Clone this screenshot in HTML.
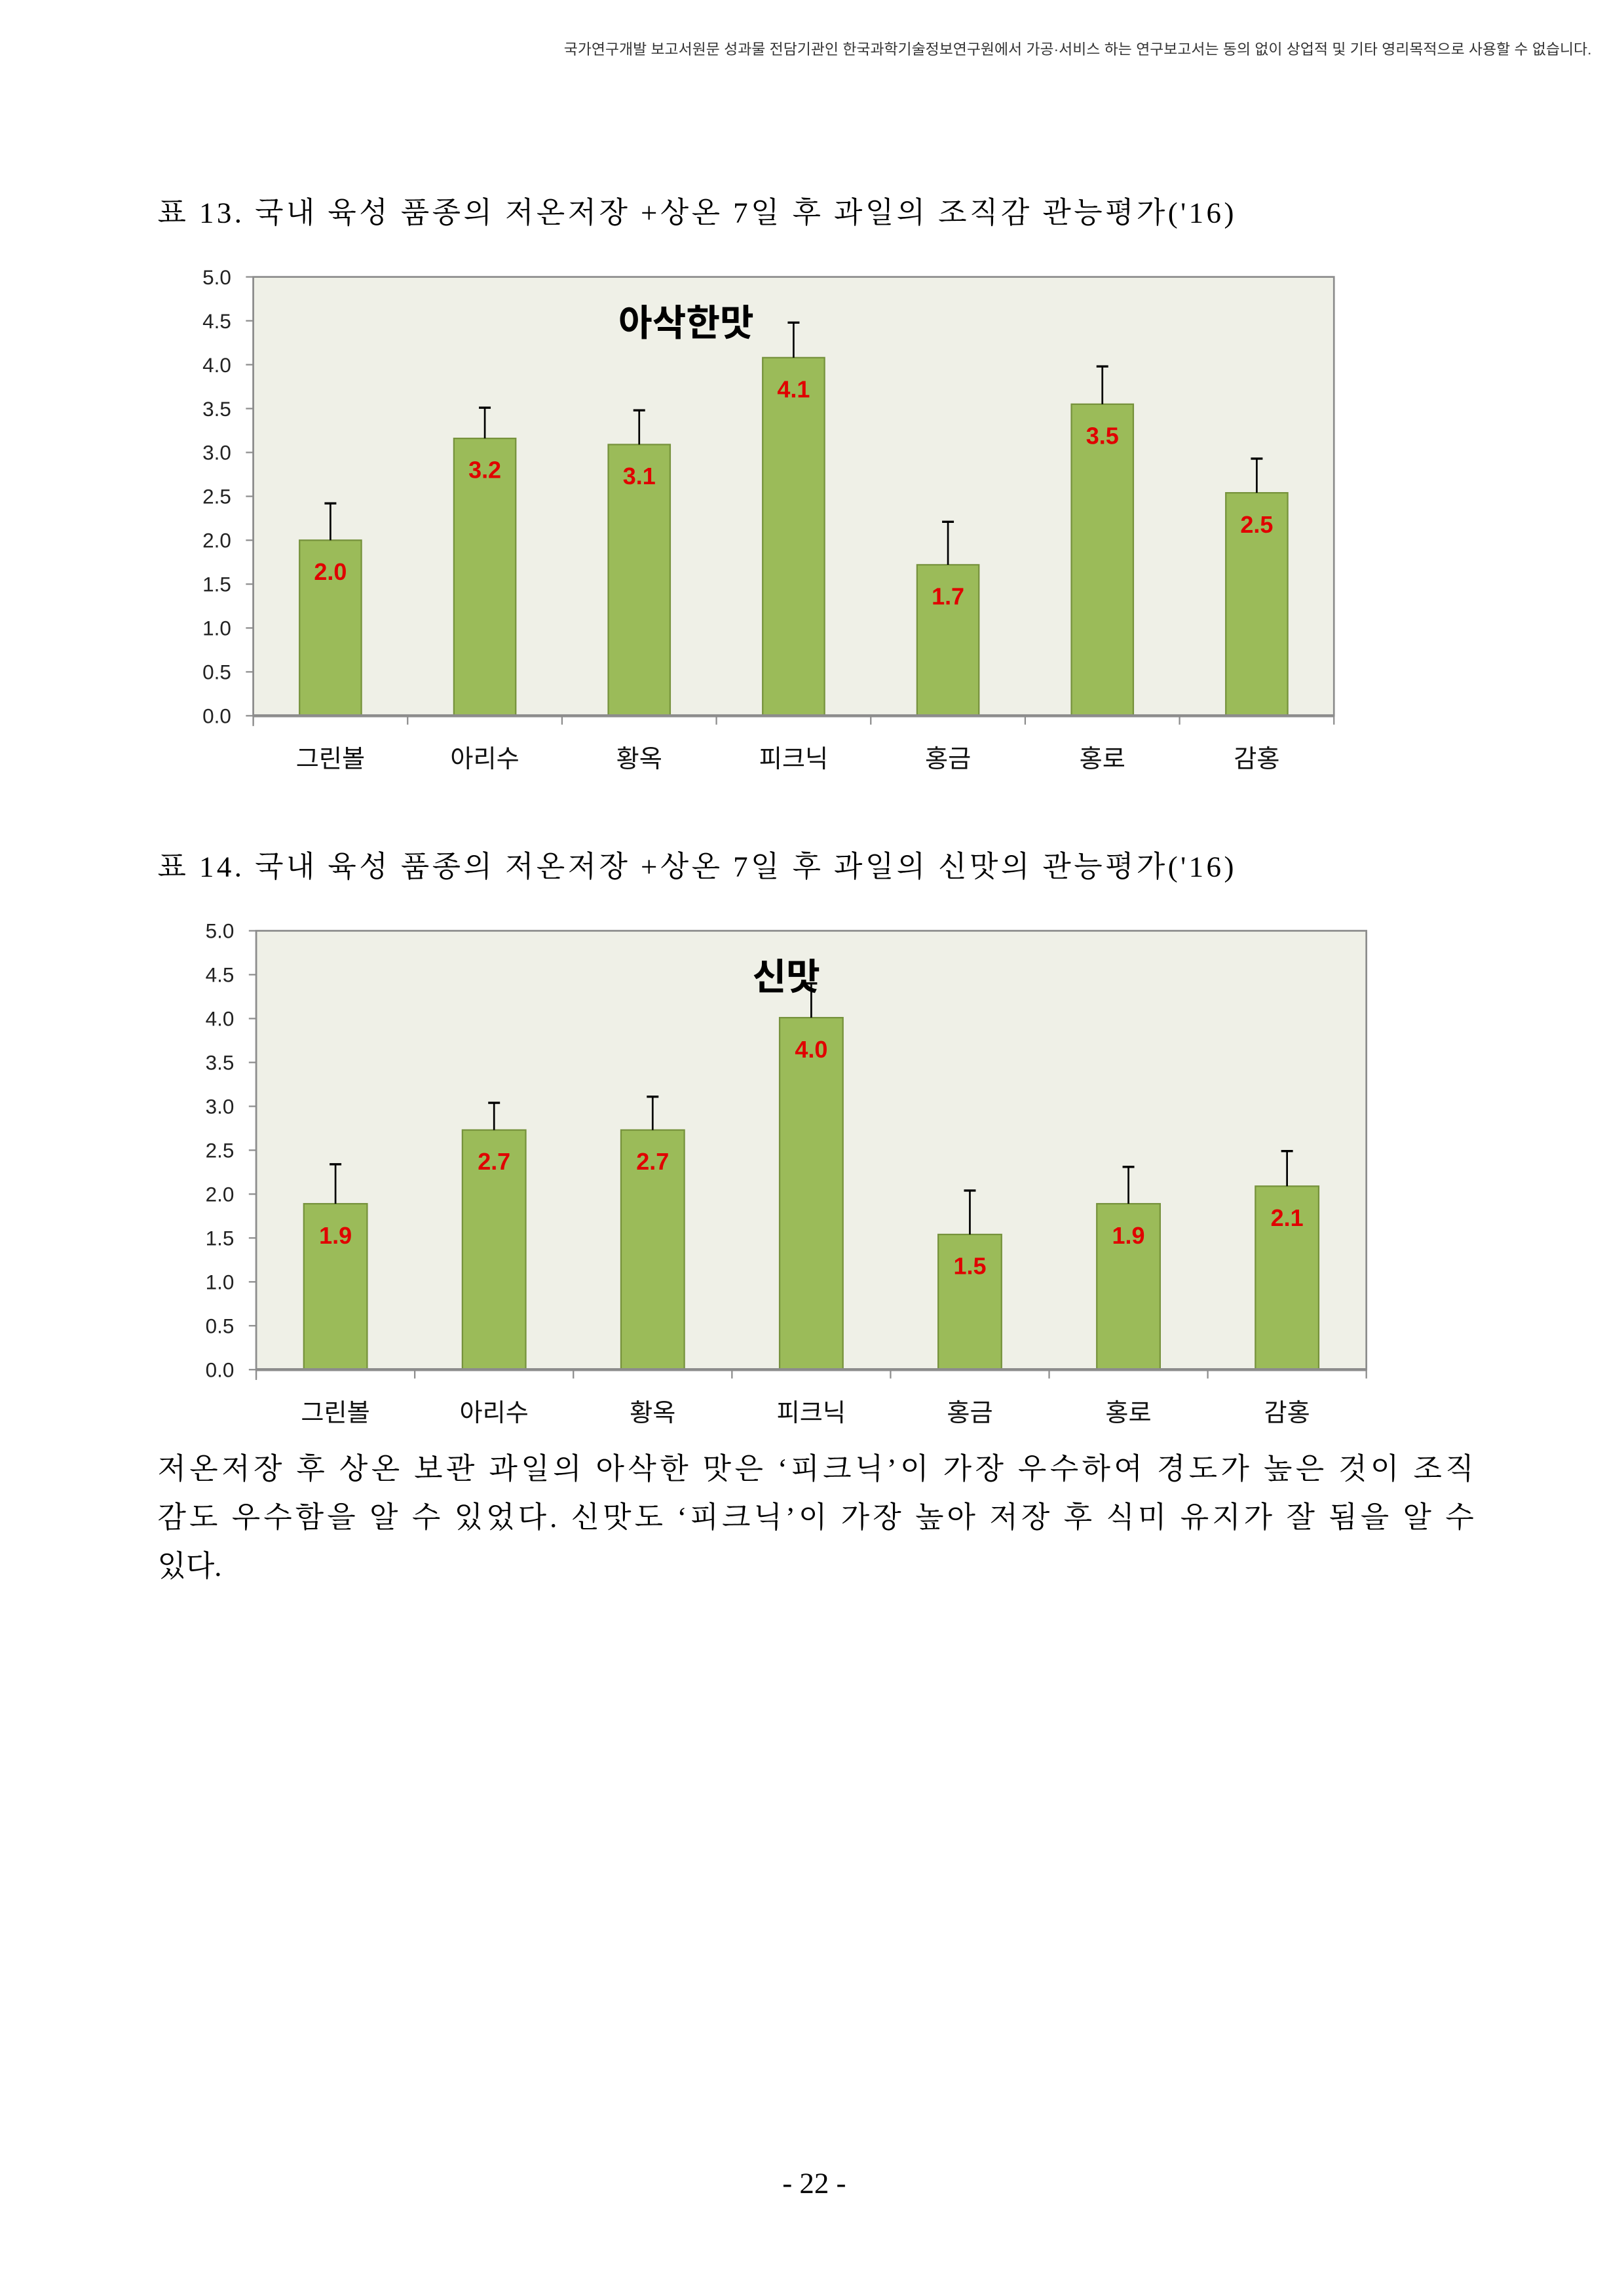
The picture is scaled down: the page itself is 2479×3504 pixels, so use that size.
<!DOCTYPE html>
<html><head><meta charset="utf-8">
<style>
html,body{margin:0;padding:0;background:#fff}
svg{display:block}
.ser{font-family:"Liberation Serif","Noto Serif CJK KR","Noto Serif CJK SC",serif}
.san{font-family:"Liberation Sans","Noto Sans CJK KR",sans-serif}
</style></head>
<body>
<svg id="page" width="2479" height="3504" viewBox="0 0 1103 1559" xmlns="http://www.w3.org/2000/svg">
<rect width="1103" height="1559" fill="#fff"/>
<text class="san" x="383" y="37" font-size="10" textLength="698" lengthAdjust="spacingAndGlyphs" fill="#333">국가연구개발 보고서원문 성과물 전담기관인 한국과학기술정보연구원에서 가공·서비스 하는 연구보고서는 동의 없이 상업적 및 기타 영리목적으로 사용할 수 없습니다.</text>
<text class="ser" x="107" y="151" font-size="20" textLength="731" fill="#000">표 13. 국내 육성 품종의 저온저장 +상온 7일 후 과일의 조직감 관능평가('16)</text>
<text class="ser" x="107" y="595" font-size="20" textLength="731" fill="#000">표 14. 국내 육성 품종의 저온저장 +상온 7일 후 과일의 신맛의 관능평가('16)</text>
<g id="chart1"></g>
<g id="chart2"></g>
<text class="ser" x="107" y="1004" font-size="20" textLength="894" fill="#000">저온저장 후 상온 보관 과일의 아삭한 맛은 ‘피크닉’이 가장 우수하여 경도가 높은 것이 조직</text>
<text class="ser" x="107" y="1037" font-size="20" textLength="894" fill="#000">감도 우수함을 알 수 있었다. 신맛도 ‘피크닉’이 가장 높아 저장 후 식미 유지가 잘 됨을 알 수</text>
<text class="ser" x="107" y="1070" font-size="20" fill="#000">있다.</text>
<text class="ser" x="553" y="1489" font-size="20" text-anchor="middle" fill="#000">- 22 -</text>
</svg>
<script>
const categories = ["그린볼","아리수","황옥","피크닉","홍금","홍로","감홍"];
const crispValues = [2.0,3.16,3.09,4.08,1.72,3.55,2.54];
const crispLabels = ["2.0","3.2","3.1","4.1","1.7","3.5","2.5"];
const crispErrTop = [2.42,3.51,3.48,4.48,2.21,3.98,2.93];
const sourValues = [1.89,2.73,2.73,4.01,1.54,1.89,2.09];
const sourLabels = ["1.9","2.7","2.7","4.0","1.5","1.9","2.1"];
const sourErrTop = [2.34,3.04,3.11,4.4,2.04,2.31,2.49];
const yTicks = ["0.0","0.5","1.0","1.5","2.0","2.5","3.0","3.5","4.0","4.5","5.0"];
const NS="http://www.w3.org/2000/svg";
function mk(tag,attrs,parent){const e=document.createElementNS(NS,tag);for(const k in attrs)e.setAttribute(k,attrs[k]);parent.appendChild(e);return e;}
function drawChart(g,cfg,values,labels,errTop,title){
  const {left,right,top,bottom,barW,titleX,titleY}=cfg;
  const y=v=>bottom-(v/5)*(bottom-top);
  const bw=(right-left)/categories.length;
  const x=i=>left+bw*(i+0.5);
  const bg=mk('rect',{x:left,y:top,width:right-left,height:bottom-top,fill:'#eff0e7',stroke:'#8c8c8c','stroke-width':1.2},g);
  
  
  const ax=mk('line',{x1:left,y1:top,x2:left,y2:bottom+7,stroke:'#8c8c8c','stroke-width':1},g);
  
  
  yTicks.forEach((t,i)=>{
    const v=i*0.5;
    mk('line',{x1:left-5,y1:y(v),x2:left,y2:y(v),stroke:'#8c8c8c'},g);
    const tx=mk('text',{x:left-15,y:y(v)+5,'font-size':14,'text-anchor':'end',fill:'#222',class:'san'},g);
    
    
    tx.textContent=t;
  });
  for(let i=0;i<=categories.length;i++){
    mk('line',{x1:left+bw*i,y1:bottom,x2:left+bw*i,y2:bottom+6,stroke:'#8c8c8c'},g);
  }
  categories.forEach((c,i)=>{
    const b=mk('rect',{x:x(i)-barW/2,y:y(values[i]),width:barW,height:y(0)-y(values[i]),fill:'#9bbb59',stroke:'#76923c','stroke-width':1},g);
    
    
    const e=mk('line',{x1:x(i),y1:y(values[i]),x2:x(i),y2:y(errTop[i]),stroke:'#000','stroke-width':1.2},g);
    
    
    mk('line',{x1:x(i)-4,y1:y(errTop[i]),x2:x(i)+4,y2:y(errTop[i]),stroke:'#000','stroke-width':1.5},g);
    const vl=mk('text',{x:x(i),y:y(values[i])+27,'font-size':16,'font-weight':'bold','text-anchor':'middle',fill:'#e00000',class:'san'},g);
    
    
    vl.textContent=labels[i];
    const cl=mk('text',{x:x(i),y:bottom+35,'font-size':17,'text-anchor':'middle',fill:'#111',class:'san'},g);
    
    
    cl.textContent=c;
  });
  mk('line',{x1:left,y1:bottom,x2:right,y2:bottom,stroke:'#8c8c8c','stroke-width':2},g);
  const tt=mk('text',{x:titleX,y:titleY,'font-size':25,'font-weight':'bold','text-anchor':'middle',fill:'#000',class:'san'},g);
  
  
  tt.textContent=title;
}
drawChart(document.getElementById('chart1'),{left:172,right:906,top:188,bottom:486,barW:42,titleX:466,titleY:228},crispValues,crispLabels,crispErrTop,"아삭한맛");
drawChart(document.getElementById('chart2'),{left:174,right:928,top:632,bottom:930,barW:43,titleX:534,titleY:672},sourValues,sourLabels,sourErrTop,"신맛");
</script>
</body></html>
